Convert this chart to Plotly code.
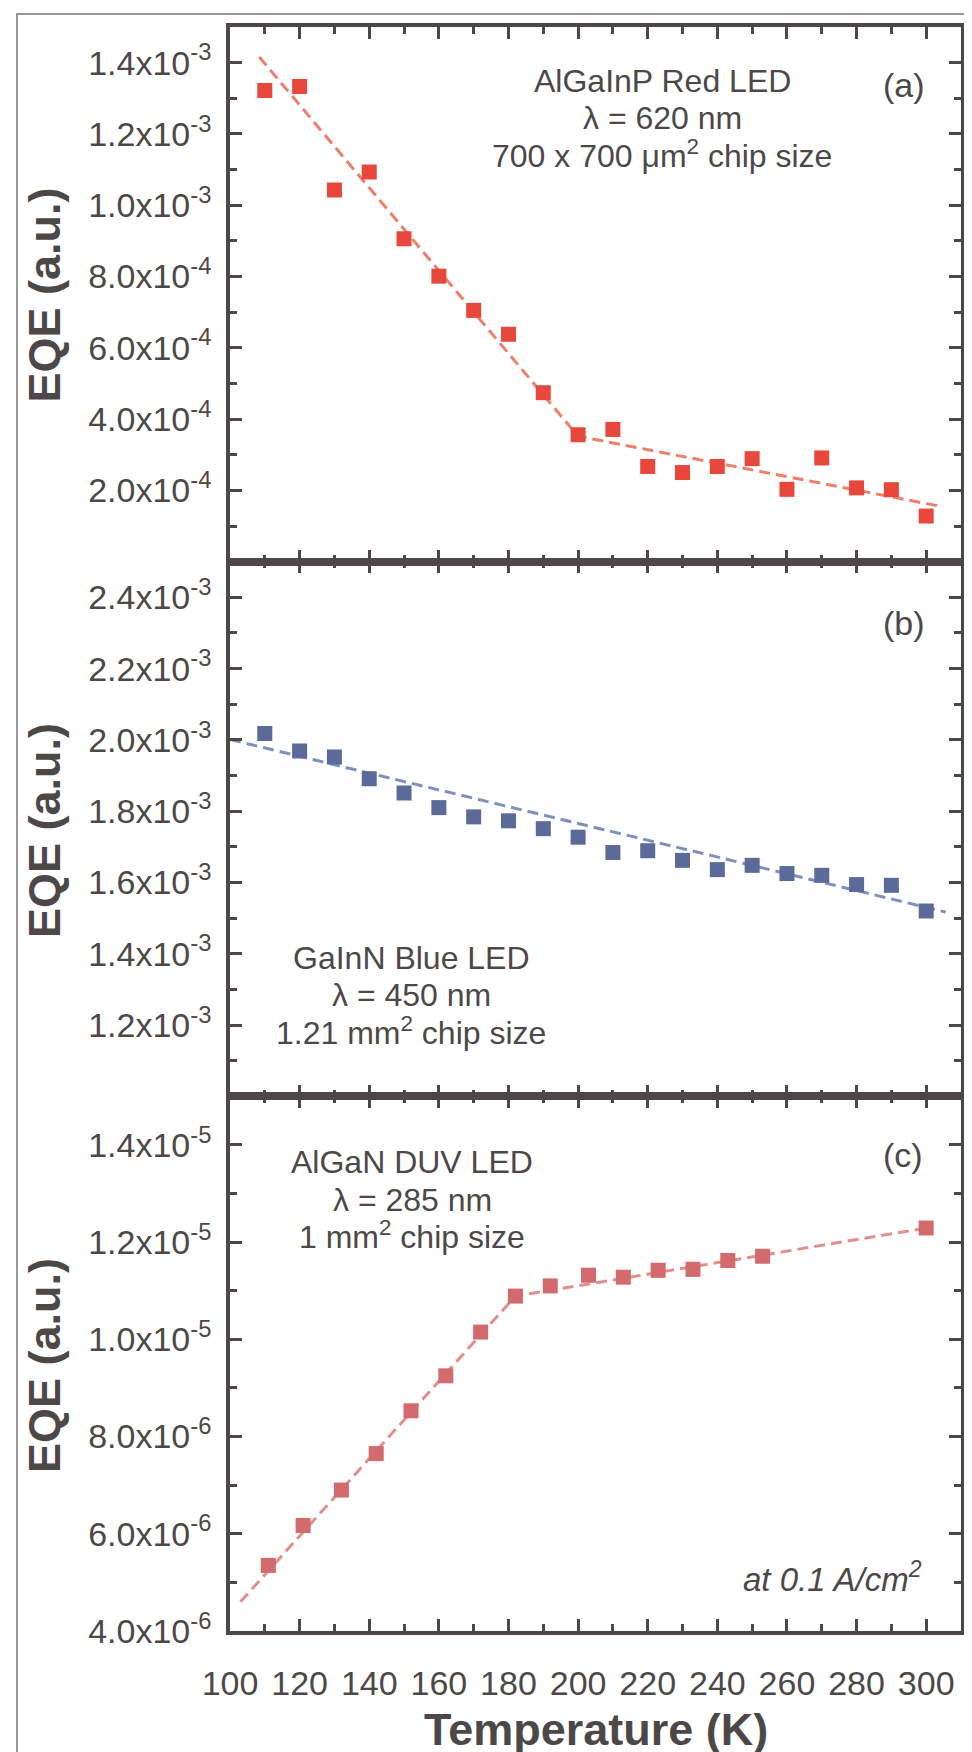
import plotly.graph_objects as go
from plotly.subplots import make_subplots

# ---------------- data ----------------
temp_a = [110, 120, 130, 140, 150, 160, 170, 180, 190, 200,
          210, 220, 230, 240, 250, 260, 270, 280, 290, 300]
eqe_a = [1.322e-3, 1.333e-3, 1.043e-3, 1.093e-3, 9.06e-4, 8.01e-4, 7.05e-4, 6.38e-4, 4.74e-4, 3.56e-4,
         3.71e-4, 2.67e-4, 2.50e-4, 2.67e-4, 2.89e-4, 2.03e-4, 2.91e-4, 2.07e-4, 2.02e-4, 1.28e-4]
fit_a_x = [108.4, 200, 304.5]
fit_a_y = [1.416e-3, 3.52e-4, 1.545e-4]

temp_b = [110, 120, 130, 140, 150, 160, 170, 180, 190, 200,
          210, 220, 230, 240, 250, 260, 270, 280, 290, 300]
eqe_b = [2.018e-3, 1.969e-3, 1.952e-3, 1.891e-3, 1.851e-3, 1.810e-3, 1.784e-3, 1.773e-3, 1.751e-3, 1.727e-3,
         1.684e-3, 1.689e-3, 1.662e-3, 1.636e-3, 1.648e-3, 1.625e-3, 1.620e-3, 1.594e-3, 1.592e-3, 1.520e-3]
fit_b_x = [100, 305.6]
fit_b_y = [2.001e-3, 1.517e-3]

temp_c = [111, 121, 132, 142, 152, 162, 172, 182, 192, 203, 213, 223, 233, 243, 253, 300]
eqe_c = [5.35e-6, 6.17e-6, 6.90e-6, 7.65e-6, 8.53e-6, 9.25e-6, 1.015e-5, 1.089e-5,
         1.110e-5, 1.132e-5, 1.128e-5, 1.142e-5, 1.144e-5, 1.162e-5, 1.171e-5, 1.229e-5]
fit_c_x = [103.0, 182, 300]
fit_c_y = [4.60e-6, 1.089e-5, 1.229e-5]

ytick_a = [2e-4, 4e-4, 6e-4, 8e-4, 1.0e-3, 1.2e-3, 1.4e-3]
ylab_a = ["2.0x10<sup>-4</sup>", "4.0x10<sup>-4</sup>", "6.0x10<sup>-4</sup>", "8.0x10<sup>-4</sup>",
          "1.0x10<sup>-3</sup>", "1.2x10<sup>-3</sup>", "1.4x10<sup>-3</sup>"]
ytick_b = [1.2e-3, 1.4e-3, 1.6e-3, 1.8e-3, 2.0e-3, 2.2e-3, 2.4e-3]
ylab_b = ["1.2x10<sup>-3</sup>", "1.4x10<sup>-3</sup>", "1.6x10<sup>-3</sup>", "1.8x10<sup>-3</sup>",
          "2.0x10<sup>-3</sup>", "2.2x10<sup>-3</sup>", "2.4x10<sup>-3</sup>"]
ytick_c = [4e-6, 6e-6, 8e-6, 1.0e-5, 1.2e-5, 1.4e-5]
ylab_c = ["4.0x10<sup>-6</sup>", "6.0x10<sup>-6</sup>", "8.0x10<sup>-6</sup>",
          "1.0x10<sup>-5</sup>", "1.2x10<sup>-5</sup>", "1.4x10<sup>-5</sup>"]

# ---------------- style ----------------
AX = "#4D4848"
FONT = "Liberation Sans, Arial, sans-serif"
red_m, red_l = "#E8483C", "#EE7F6B"
blue_m, blue_l = "#5B6A98", "#7F90BF"
pink_m, pink_l = "#D26A6E", "#E38E8E"
DASH = "11px,6px"

fig = make_subplots(rows=3, cols=1, shared_xaxes=True, vertical_spacing=0)

def add_panel(row, fx, fy, tx, ty, mc, lc):
    fig.add_trace(go.Scatter(x=fx, y=fy, mode="lines",
                             line=dict(color=lc, width=3, dash=DASH),
                             showlegend=False, hoverinfo="skip"), row=row, col=1)
    fig.add_trace(go.Scatter(x=tx, y=ty, mode="markers",
                             marker=dict(symbol="square", size=15, color=mc, line=dict(width=0)),
                             showlegend=False), row=row, col=1)

add_panel(1, fit_a_x, fit_a_y, temp_a, eqe_a, red_m, red_l)
add_panel(2, fit_b_x, fit_b_y, temp_b, eqe_b, blue_m, blue_l)
add_panel(3, fit_c_x, fit_c_y, temp_c, eqe_c, pink_m, pink_l)

common = dict(showline=True, linecolor=AX, linewidth=3.5, mirror="allticks",
              ticks="inside", ticklen=12, tickwidth=3, tickcolor=AX,
              showgrid=False, zeroline=False,
              tickfont=dict(family=FONT, size=34, color=AX))

for r in (1, 2, 3):
    fig.update_xaxes(range=[100, 310], tickmode="linear", tick0=100, dtick=20,
                     minor=dict(ticks="inside", ticklen=7, tickwidth=3, tickcolor=AX,
                                dtick=10, tick0=100, showgrid=False),
                     ticklabelstandoff=19,
                     **common, row=r, col=1)

fig.update_yaxes(range=[0, 1.5e-3], tickmode="array", tickvals=ytick_a, ticktext=ylab_a,
                 minor=dict(ticks="inside", ticklen=7, tickwidth=3, tickcolor=AX,
                            dtick=1e-4, tick0=0, showgrid=False),
                 ticklabelstandoff=8, **common, row=1, col=1)
fig.update_yaxes(range=[1.0e-3, 2.5e-3], tickmode="array", tickvals=ytick_b, ticktext=ylab_b,
                 minor=dict(ticks="inside", ticklen=7, tickwidth=3, tickcolor=AX,
                            dtick=1e-4, tick0=0, showgrid=False),
                 ticklabelstandoff=8, **common, row=2, col=1)
fig.update_yaxes(range=[4e-6, 1.5e-5], tickmode="array", tickvals=ytick_c, ticktext=ylab_c,
                 minor=dict(ticks="inside", ticklen=7, tickwidth=3, tickcolor=AX,
                            dtick=1e-6, tick0=0, showgrid=False),
                 ticklabelstandoff=8, **common, row=3, col=1)

W, H = 972, 1752
L, R, T, B = 222, 19, 19, 129
pw, ph = W - L - R, H - T - B

def xp(px):
    return (px - L) / pw

def yp(py):
    return (H - B - py) / ph

ann = []
def txt(text, x, y, size=32, xanchor="center", bold=False, italic=False, angle=0):
    if bold:
        text = "<b>" + text + "</b>"
    if italic:
        text = "<i>" + text + "</i>"
    ann.append(dict(text=text, x=xp(x), y=yp(y), xref="paper", yref="paper",
                    xanchor=xanchor, yanchor="middle", showarrow=False, textangle=angle,
                    font=dict(family=FONT, size=size, color=AX)))

# panel (a)
txt("AlGaInP Red LED", 654, 73)
txt("λ = 620 nm", 654, 110)
txt("700 x 700 μm<sup>2</sup> chip size", 654, 146)
txt("(a)", 896, 77, size=34)
# panel (b)
txt("(b)", 896, 615, size=34)
txt("GaInN Blue LED", 403, 950)
txt("λ = 450 nm", 403, 987)
txt("1.21 mm<sup>2</sup> chip size", 403, 1023)
# panel (c)
txt("(c)", 895, 1147, size=34)
txt("AlGaN DUV LED", 404, 1154)
txt("λ = 285 nm", 404, 1192)
txt("1 mm<sup>2</sup> chip size", 404, 1227)
txt("at 0.1 A/cm<sup>2</sup>", 916, 1569, size=33, xanchor="right", italic=True)

# axis titles
for yc in (286.5, 822, 1357):
    txt("EQE (a.u.)", 36, yc, size=45, bold=True, angle=-90)
txt("Temperature (K)", 588, 1721, size=45, bold=True)

fig.update_layout(
    width=W, height=H,
    margin=dict(l=L, r=R, t=T, b=B),
    paper_bgcolor="white", plot_bgcolor="white",
    annotations=ann,
    shapes=[dict(type="rect", xref="paper", yref="paper",
                 x0=xp(9), x1=xp(968), y0=yp(1800), y1=yp(6),
                 line=dict(color="#7A7676", width=1.5), layer="below")],
    showlegend=False,
)

fig.write_html("out.html")
